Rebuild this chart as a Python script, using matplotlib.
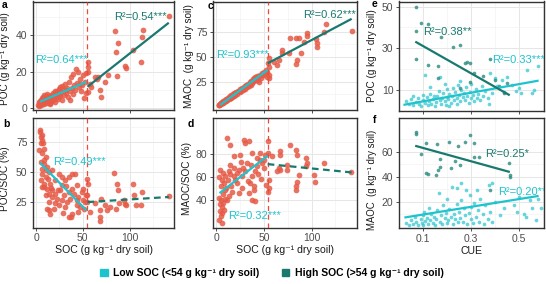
import numpy as np
import matplotlib
matplotlib.use("Agg")
import matplotlib.pyplot as plt
from matplotlib.patches import Patch

plt.rcParams['font.family'] = ['Liberation Sans', 'DejaVu Sans']

W, H = 546, 284
cyan = '#1fc3cd'
teal = '#19796f'
salmon = '#e65a46'
cut = 54

# ---- panel a: SOC vs POC ----
a_lo = np.array([(2.5, 2.0), (3, 3.5), (3.5, 1.5), (4, 4.2), (4, 2.8), (4.5, 3.3), (5, 2.0), (5, 4.8), (5.5, 3.0), (6, 3.8),
                 (6, 5.5), (6.5, 2.5), (7, 4.5), (7, 3.2), (7.5, 6.0), (8, 3.8), (8, 5.0), (8.5, 2.2), (9, 4.2), (9, 7.2),
                 (9.5, 6.3), (10, 3.5), (10, 5.2), (11, 4.5), (11.5, 7.0), (12, 3.0), (12, 8.0), (12.5, 5.8), (13, 4.2), (14, 6.5),
                 (14.5, 2.5), (15, 5.5), (15, 3.0), (16, 7.5), (16.5, 4.0), (17, 6.2), (18, 8.5), (19, 5.0), (19.5, 7.0), (20, 3.2),
                 (20, 9.5), (21, 8.0), (22, 6.0), (22.5, 9.5), (23, 5.0), (24, 7.5), (25, 10.5), (26, 6.5), (26, 11.5), (27, 9.0),
                 (28, 4.5), (28, 12.0), (29, 10.8), (30, 7.5), (31, 13.5), (32, 8.5), (32, 10.0), (33, 11.0), (34, 6.0), (35, 14.5),
                 (36, 9.5), (36, 4.5), (37, 17.0), (38, 11.0), (39, 8.0), (40, 18.5), (41, 12.5), (42, 10.0), (43, 21.5), (44, 14.0),
                 (45, 19.8), (46, 11.5), (47, 16.0), (47, 13.5), (48, 9.5), (49, 13.0), (50, 18.0), (51, 5.5), (52, 14.5), (53, 8.5),
                 (53, 19.5)])
a_hi = np.array([(55.5, 25.5), (55.5, 22.5), (55.5, 20.0), (56, 9.0), (57.5, 13.5), (58.5, 11.8), (63.5, 16.9), (65.5, 15.8),
                 (68, 10.0), (69, 6.4), (74, 14.5), (77.5, 18.2), (86.5, 17.6), (95.5, 23.1), (96, 21.8), (104, 31.8),
                 (112, 25.5), (85.5, 30.9), (87.5, 35.8), (84, 42.2), (114.5, 42.7), (113.5, 39.1), (142, 50.5), (66, 17.0)])
a_fit_lo = ([4.2, 54], [3.6, 14.5])
a_fit_hi = ([55, 142], [11.8, 46.7])

# ---- panel b: SOC vs POC/SOC ----
b_lo = np.array([(3.9, 83.3), (6, 80.6), (6.7, 76.4), (4.9, 73.6), (8.4, 69.4), (6.7, 65.3), (10.2, 62.5), (4.9, 58.3),
                 (8.4, 56.9), (11.9, 54.2), (6, 48.6), (10.2, 45.8), (6.7, 37.5), (11.9, 36.1), (15.4, 40.3), (17.2, 34.7),
                 (20.7, 43), (24.2, 48.6), (27.7, 38.9), (31.2, 43), (34.7, 45.8), (38.2, 48.6), (41.8, 48.6), (43.5, 38.9),
                 (41, 31.9), (45.3, 29.2), (48.8, 33.3), (50.5, 36.1), (52.3, 25), (51.6, 19.4), (53.3, 30.6), (36.5, 27.8),
                 (31.2, 20.8), (38.2, 15.3), (34.7, 12.5), (24.2, 22.2), (19, 19.4), (13.7, 18), (11.9, 19.4), (15.4, 15.3),
                 (22.5, 27.8), (27.7, 26.4), (33, 25), (43.5, 22.2), (47, 20.8), (34.7, 33.3), (29.5, 30.6), (20.7, 31.9),
                 (26, 34.7), (13.7, 31.9), (17.2, 29.2), (10.2, 30.6), (8.4, 37.5), (4.9, 43), (13.7, 50), (17.2, 51.4),
                 (10.2, 51.4), (4.5, 85), (5.5, 79), (7.5, 74), (3.5, 68), (9, 59.5), (6, 52), (12.5, 44), (9, 40), (16, 37),
                 (14, 25), (20, 24), (23, 35), (28, 45.5), (32, 38), (38, 36), (44, 27), (50, 26.5), (29, 16), (37, 13), (45, 17)])
b_hi = np.array([(55, 44.4), (55.8, 40.3), (55, 30.6), (55, 25), (57.5, 16.7), (68, 18), (68, 13), (68.8, 9.7), (62.8, 24.2),
                 (69.8, 27.8), (73.3, 22.2), (76.1, 18), (78.6, 20.8), (83.9, 49.2), (86.7, 39.7), (88, 35.3), (89, 24.2),
                 (85.6, 19.4), (94.4, 26.4), (95, 23), (96, 22.2), (104, 40.3), (105, 30.6), (106.7, 22.2), (113.7, 33.3),
                 (112, 22.2), (141.8, 30)])
b_fit_lo = ([4.2, 54], [57.5, 18])
b_fit_hi = ([55, 142], [25, 29.2])

# ---- panel c: SOC vs MAOC ----
c_lo = np.array([(2.5, 1.2), (3, 2.0), (3.5, 1.6), (4, 2.4), (4.5, 3.0), (5, 2.2), (5, 3.8), (5.5, 3.2), (6, 4.5), (6.5, 3.6),
                 (7, 4.0), (7.5, 5.4), (8, 4.6), (8.5, 6.0), (9, 5.2), (9.5, 6.8), (10, 5.8), (11, 7.5), (11.5, 6.4), (12, 8.6),
                 (13, 7.8), (13.5, 9.6), (14, 8.2), (15, 10.5), (15.5, 9.0), (16, 11.2), (17, 10.0), (18, 12.5), (18.5, 11.0),
                 (19, 13.4), (20, 12.0), (21, 14.5), (22, 13.0), (22.5, 16.0), (23, 14.2), (24, 15.5), (25, 17.8), (26, 15.5),
                 (27, 18.6), (28, 17.0), (29, 20.0), (30, 18.0), (31, 21.5), (32, 19.5), (33, 23.0), (34, 20.5), (35, 24.5),
                 (36, 22.0), (37, 26.0), (38, 23.5), (39, 27.5), (40, 25.5), (41, 30.0), (42, 27.0), (43, 31.0), (44, 26.5),
                 (45, 30.5), (46, 32.0), (47, 29.0), (48, 33.5), (49, 31.5), (50, 35.0), (51, 33.0), (52, 37.0), (53, 30.0),
                 (53.5, 34.5), (10, 8.0), (20, 14.0), (30, 20.5), (40, 29.0), (25, 15.0), (15, 8.5), (44.6, 25), (42.8, 28.3),
                 (37.5, 25)])
c_hi = np.array([(142, 76), (114.7, 82.3), (113, 75), (95.4, 73.3), (104.2, 67.3), (77.9, 68.3), (83.2, 68.3), (86.7, 68.3),
                 (91.9, 65), (88.4, 54), (84.9, 46.7), (84.2, 42.3), (69.1, 56.7), (69.1, 53.3), (76.1, 53.3), (65.6, 46.7),
                 (63.9, 41.7), (60.4, 45), (55.1, 48.3), (54.4, 43.3), (105.3, 64), (106, 60), (95.4, 70.7), (55, 40),
                 (55.1, 28.3), (55, 31.7)])
c_fit_lo = ([4.2, 54], [1.7, 36.7])
c_fit_hi = ([54, 142], [43.3, 87.7])

# ---- panel d: SOC vs MAOC/SOC ----
d_lo = np.array([(11.2, 93.6), (14.7, 87.8), (28.8, 92.2), (30.5, 89.3), (34, 90.7), (37.5, 80.6), (25.3, 79.1), (18.2, 77.7),
                 (14.7, 70.4), (23.5, 66.1), (32.3, 71.9), (42.8, 76.2), (46.3, 74.8), (48.1, 71.9), (49.8, 67.5), (41, 64.6),
                 (37.5, 60.3), (35.8, 54.5), (39.3, 48.7), (37.5, 40), (41, 38.6), (34, 45.8), (27, 50.1), (21.8, 54.5),
                 (16.5, 47.2), (13, 42.9), (7.7, 37.1), (6, 34.2), (4.2, 29.9), (6, 28.4), (3.5, 22.6), (4.9, 40), (9.5, 48.7),
                 (6, 57.4), (9.5, 60.3), (4.2, 66.1), (7.7, 63.2), (13, 64.6), (18.2, 60.3), (21.8, 63.2), (27, 60.3),
                 (30.5, 64.6), (42.8, 69), (49.8, 74.8), (46.3, 80.6), (51.6, 79.1), (3, 42), (5, 52), (4, 36), (7, 45),
                 (8, 55), (3.5, 60), (10, 50), (5, 26), (6, 20), (12, 57), (15, 62), (20, 57), (24, 46), (28, 68), (33, 56),
                 (36, 70), (40, 52), (44, 62), (47, 58), (52, 53), (11, 40), (16, 52), (19, 68), (26, 73), (8, 31), (9, 41)])
d_hi = np.array([(54.5, 90.7), (54.5, 80.6), (55, 50.1), (54.5, 47.2), (55, 57.4), (58.6, 77.7), (67.4, 82), (67.4, 79.1),
                 (65.6, 67.5), (63.9, 64.6), (67.4, 66.1), (74.4, 70.4), (77.9, 87.8), (83.2, 82.9), (84.9, 79.1),
                 (83.2, 51.6), (84.2, 48.7), (86.7, 61.7), (84.9, 55.9), (93.7, 76.2), (95.4, 71.9), (93.7, 69.6),
                 (102.5, 61.7), (103.5, 55.9), (113, 71.9), (141.8, 63.8), (74.4, 66.1)])
d_fit_lo = ([3.5, 54], [45.8, 78.3])
d_fit_hi = ([54, 142], [71, 63.8])

# ---- panel e: CUE vs POC ----
e_lo = np.array([(0.03, 4.4), (0.04, 3.0), (0.05, 5.5), (0.06, 2.5), (0.07, 4.0), (0.08, 6.0), (0.085, 3.2), (0.09, 2.0),
                 (0.10, 5.0), (0.10, 7.5), (0.11, 3.5), (0.115, 6.5), (0.12, 2.5), (0.125, 4.5), (0.13, 8.0), (0.135, 3.0),
                 (0.14, 5.5), (0.145, 6.8), (0.15, 2.2), (0.155, 4.0), (0.16, 7.0), (0.165, 9.5), (0.17, 5.0), (0.175, 3.0),
                 (0.18, 6.0), (0.185, 8.5), (0.19, 4.5), (0.195, 2.5), (0.20, 6.5), (0.20, 10.5), (0.205, 5.5), (0.21, 8.0),
                 (0.215, 3.5), (0.22, 7.0), (0.225, 11.0), (0.23, 5.0), (0.235, 9.0), (0.24, 6.0), (0.24, 3.0), (0.245, 12.5),
                 (0.25, 7.5), (0.255, 4.5), (0.26, 10.0), (0.265, 6.5), (0.27, 8.5), (0.275, 5.0), (0.28, 11.5), (0.285, 7.0),
                 (0.29, 3.5), (0.295, 9.0), (0.30, 6.0), (0.30, 13.0), (0.31, 7.5), (0.315, 4.5), (0.32, 10.5), (0.325, 6.0),
                 (0.33, 8.0), (0.34, 5.0), (0.345, 12.0), (0.35, 7.0), (0.36, 9.5), (0.37, 6.0), (0.375, 3.0), (0.38, 18.0),
                 (0.39, 8.5), (0.40, 15.5), (0.41, 12.0), (0.43, 14.8), (0.44, 9.0), (0.45, 16.0), (0.47, 12.5), (0.49, 9.2),
                 (0.50, 11.0), (0.51, 8.4), (0.535, 19.6), (0.555, 8.4), (0.565, 10.0), (0.578, 21.2), (0.107, 17.2),
                 (0.17, 16.0), (0.254, 14.0), (0.13, 11.5), (0.06, 6.8), (0.19, 13.0), (0.21, 2.0)])
e_hi = np.array([(0.072, 50), (0.093, 42.3), (0.121, 41.7), (0.072, 38.5), (0.174, 35.3), (0.226, 30.8), (0.254, 31.6),
                 (0.072, 24.7), (0.121, 22), (0.163, 21.2), (0.276, 22.8), (0.283, 23.6), (0.297, 23.1), (0.381, 24.7),
                 (0.311, 18), (0.402, 14.8), (0.416, 11.9), (0.451, 13.2), (0.163, 15.6), (0.254, 10.8), (0.297, 13.5),
                 (0.35, 16.5), (0.44, 8.5)])
e_fit_lo = ([0.023, 0.578], [2.8, 14.3])
e_fit_hi = ([0.072, 0.458], [32.9, 7.6])

# ---- panel f: CUE vs MAOC ----
f_lo = np.array([(0.03, 3), (0.04, 1.5), (0.05, 5), (0.06, 2.5), (0.065, 8), (0.07, 4), (0.08, 1.5), (0.09, 6), (0.095, 3),
                 (0.10, 9), (0.10, 1.5), (0.105, 12), (0.11, 4.5), (0.115, 7), (0.12, 2), (0.125, 15), (0.13, 5), (0.135, 10),
                 (0.14, 3), (0.145, 8), (0.15, 1.5), (0.155, 6), (0.16, 13), (0.165, 26.7), (0.17, 4), (0.175, 9), (0.18, 2),
                 (0.185, 17), (0.19, 7), (0.195, 11), (0.20, 3), (0.20, 22), (0.205, 5), (0.21, 14), (0.215, 8), (0.22, 32),
                 (0.225, 2), (0.23, 10), (0.235, 6), (0.24, 30.7), (0.24, 18), (0.245, 3.5), (0.25, 12), (0.255, 7),
                 (0.26, 34.7), (0.26, 21), (0.265, 4), (0.27, 15), (0.275, 9), (0.28, 29), (0.285, 2.5), (0.29, 11),
                 (0.295, 25), (0.30, 6), (0.30, 16), (0.31, 3), (0.315, 19), (0.32, 8), (0.325, 29.3), (0.33, 13), (0.335, 4),
                 (0.34, 22), (0.35, 10), (0.355, 2.5), (0.36, 17), (0.37, 6), (0.374, 33.3), (0.388, 34.7), (0.38, 12),
                 (0.39, 4), (0.40, 20), (0.42, 9), (0.44, 15), (0.479, 17.3), (0.493, 12), (0.52, 10), (0.528, 8),
                 (0.556, 14.7), (0.57, 5), (0.592, 14.7), (0.58, 22), (0.545, 21), (0.50, 24)])
f_hi = np.array([(0.069, 76), (0.069, 74.1), (0.297, 73.3), (0.114, 67.2), (0.159, 66.1), (0.21, 67.5), (0.276, 67.5),
                 (0.311, 66.7), (0.247, 64.5), (0.093, 58.1), (0.311, 56), (0.332, 56), (0.17, 53.9), (0.233, 52.8),
                 (0.254, 49.3), (0.17, 47.5), (0.163, 45.3), (0.219, 47.2), (0.114, 42.7), (0.121, 42.1), (0.156, 41.3),
                 (0.458, 50.7), (0.465, 41.3), (0.465, 40), (0.381, 29.3)])
f_fit_lo = ([0.027, 0.578], [7.5, 24.5])
f_fit_hi = ([0.072, 0.458], [64.5, 44])

soc_lim = (-3.3, 147.6)
cue_lim = (0.0, 0.605)


def box(l, t, r, b):
    return [l / W, 1 - b / H, (r - l) / W, (b - t) / H]


def style(ax, xlim, ylim, xt, xminor, yt, yminor, xlabels=True):
    ax.set_xlim(xlim)
    ax.set_ylim(ylim)
    ax.set_xticks(xt)
    ax.set_xticks(xminor, minor=True)
    ax.set_yticks(yt)
    ax.set_yticks(yminor, minor=True)
    ax.grid(which='major', color='#e6e6e6', lw=0.7)
    ax.grid(which='minor', color='#f1f1f1', lw=0.45)
    ax.set_axisbelow(True)
    for s in ax.spines.values():
        s.set_color('#333333')
        s.set_linewidth(1.0)
    ax.tick_params(which='major', length=2.5, width=0.6, color='#333333',
                   labelsize=7.5, labelcolor='#4d4d4d', pad=1.5)
    ax.tick_params(which='minor', length=0)
    if not xlabels:
        ax.tick_params(axis='x', labelbottom=False)


fig = plt.figure(figsize=(W / 100, H / 100), dpi=100)
ax_a = fig.add_axes(box(33, 1.5, 174, 110))
ax_b = fig.add_axes(box(33, 118, 174, 227.5))
ax_c = fig.add_axes(box(213, 1.5, 357, 110))
ax_d = fig.add_axes(box(213, 118, 357, 227.5))
ax_e = fig.add_axes(box(399, 1.5, 544, 110.5))
ax_f = fig.add_axes(box(399, 118.3, 544, 228))

soc_t, soc_m = [0, 50, 100], [25, 75, 125]
style(ax_a, soc_lim, (-0.9, 58.3), soc_t, soc_m, [0, 20, 40], [10, 30, 50], False)
style(ax_b, soc_lim, (3.9, 94.7), soc_t, soc_m, [25, 50, 75], [12.5, 37.5, 62.5, 87.5])
style(ax_c, soc_lim, (-3.3, 105), soc_t, soc_m, [25, 50, 75], [12.5, 37.5, 62.5, 87.5], False)
style(ax_d, soc_lim, (16, 111), soc_t, soc_m, [40, 60, 80], [30, 50, 70, 90])
style(ax_e, cue_lim, (0.2, 52.5), [0.1, 0.3, 0.5], [0.0, 0.2, 0.4, 0.6], [10, 30, 50], [0, 20, 40], False)
style(ax_f, cue_lim, (-1, 86.7), [0.1, 0.3, 0.5], [0.0, 0.2, 0.4, 0.6], [20, 40, 60], [10, 30, 50, 70])

soc_panels = [(ax_a, a_lo, a_hi, a_fit_lo, a_fit_hi, '-'),
              (ax_b, b_lo, b_hi, b_fit_lo, b_fit_hi, '--'),
              (ax_c, c_lo, c_hi, c_fit_lo, c_fit_hi, '-'),
              (ax_d, d_lo, d_hi, d_fit_lo, d_fit_hi, '--')]
for ax, lo, hi, flo, fhi, hls in soc_panels:
    pts = np.vstack([lo, hi])
    ax.scatter(pts[:, 0], pts[:, 1], s=17, color=salmon, alpha=0.85, linewidths=0, zorder=2)
    ax.axvline(cut, color='#f0483c', lw=0.9, ls=(0, (4, 3)), zorder=3)
    ax.plot(flo[0], flo[1], color=cyan, lw=1.6, zorder=4, solid_capstyle='butt')
    if hls == '--':
        ax.plot(fhi[0], fhi[1], color=teal, lw=1.6, ls=(0, (3, 2)), zorder=4)
    else:
        ax.plot(fhi[0], fhi[1], color=teal, lw=1.6, zorder=4, solid_capstyle='butt')

for ax, lo, hi, flo, fhi in [(ax_e, e_lo, e_hi, e_fit_lo, e_fit_hi), (ax_f, f_lo, f_hi, f_fit_lo, f_fit_hi)]:
    ax.scatter(lo[:, 0], lo[:, 1], s=7, color='#35c6cf', alpha=0.75, linewidths=0, zorder=2)
    ax.scatter(hi[:, 0], hi[:, 1], s=7, color='#2a8a80', alpha=0.8, linewidths=0, zorder=2)
    ax.plot(flo[0], flo[1], color=cyan, lw=1.6, zorder=4)
    ax.plot(fhi[0], fhi[1], color=teal, lw=1.6, zorder=4)

r2 = [(ax_a, 27.7, 26.4, 'R²=0.64***', cyan), (ax_a, 112, 49.6, 'R²=0.54***', teal),
      (ax_b, 46, 58.3, 'R²=0.49***', cyan),
      (ax_c, 28, 51.7, 'R²=0.93***', cyan), (ax_c, 118.6, 91.7, 'R²=0.62***', teal),
      (ax_d, 40, 26, 'R²=0.32***', cyan),
      (ax_e, 0.201, 38, 'R²=0.38**', teal), (ax_e, 0.50, 24.4, 'R²=0.33***', cyan),
      (ax_f, 0.452, 58.1, 'R²=0.25*', teal), (ax_f, 0.516, 28, 'R²=0.20**', cyan)]
for ax, x, y, s, c in r2:
    ax.text(x, y, s, color=c, fontsize=8, ha='center', va='center', clip_on=True, zorder=5)

ylabs = [(ax_a, 'POC (g kg⁻¹ dry soil)', 10, 0.47, 7.2), (ax_b, 'POC/SOC (%)', 10, 0.45, 7.2),
         (ax_c, 'MAOC  (g kg⁻¹ dry soil)', 193.5, 0.5, 7.2), (ax_d, 'MAOC/SOC (%)', 191.5, 0.45, 7.2),
         (ax_e, 'POC (g kg⁻¹ dry soil)', 377, 0.5, 7.2), (ax_f, 'MAOC  (g kg⁻¹ dry soil)', 377, 0.44, 6.9)]
for ax, s, xp, yc, fs in ylabs:
    ax.set_ylabel(s, fontsize=fs, color='#1a1a1a')
    l = ax.get_position().x0 * W
    ax.yaxis.set_label_coords((xp - l) / (ax.get_position().width * W), yc)

for ax, s in [(ax_b, 'SOC (g kg⁻¹ dry soil)'), (ax_d, 'SOC (g kg⁻¹ dry soil)'), (ax_f, 'CUE')]:
    ax.set_xlabel(s, fontsize=7.6, color='#1a1a1a', labelpad=1.5)

for s, x, y in [('a', 5, 5), ('b', 6, 124), ('c', 210, 6), ('d', 191, 124), ('e', 375, 4), ('f', 375, 120)]:
    fig.text(x / W, 1 - y / H, s, fontsize=7.5, fontweight='bold', ha='center', va='center')

handles = [Patch(color=cyan, label='Low SOC (<54 g kg⁻¹ dry soil)'),
           Patch(color=teal, label='High SOC (>54 g kg⁻¹ dry soil)')]
fig.legend(handles=handles, loc='center', bbox_to_anchor=(272 / W, 1 - 273 / H), ncol=2, frameon=False,
           prop={'weight': 'bold', 'size': 7.5}, handlelength=0.7, handleheight=0.7, handletextpad=0.5,
           columnspacing=2.2)

fig.savefig('out.png', dpi=100)
